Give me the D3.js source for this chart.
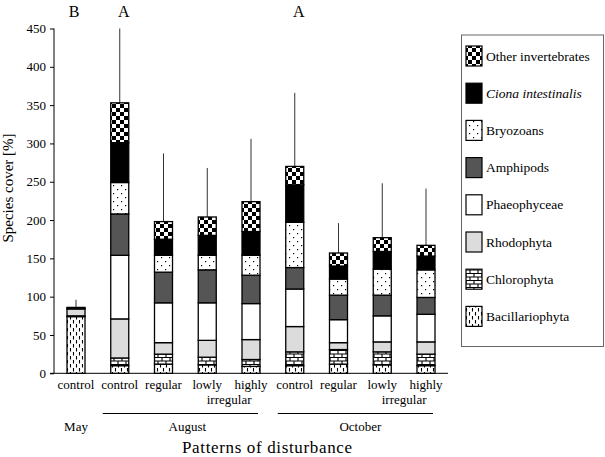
<!DOCTYPE html>
<html><head><meta charset="utf-8">
<script src="https://cdn.jsdelivr.net/npm/d3@7"></script>
<style>
html,body{margin:0;padding:0;background:#fff;}
svg{display:block;}
</style></head>
<body><svg id="chart" width="605" height="457" font-family="Liberation Serif, Times New Roman, serif"></svg>
<script>
// ---- data ----
const categories = ["control","control","regular","lowly","highly","control","regular","lowly","highly"];
const secondLine = ["","","","irregular","","","","irregular",""];
const months = ["May","August","October"];
const monthSpans = [[0,0],[1,4],[5,8]];
const letters = ["B","A","A"];
const letterCats = [0,1,5];
const series = ["Bacillariophyta","Chlorophyta","Rhodophyta","Phaeophyceae","Amphipods","Bryozoans","Ciona intestinalis","Other invertebrates"];
const bacillariophyta = [74, 10, 12, 11, 9, 10, 12, 11, 10];
const chlorophyta     = [1, 10, 13, 10, 9, 18, 19, 17, 15];
const rhodophyta      = [9, 51, 15, 22, 26, 33, 9, 13, 16];
const phaeophyceae    = [0, 83, 52, 49, 47, 49, 30, 34, 36];
const amphipods       = [0, 54, 40, 43, 37, 28, 32, 27, 22];
const bryozoans       = [0, 41, 22, 19, 26, 59, 21, 34, 36];
const ciona           = [1, 52, 21, 26, 31, 49, 17, 23, 18];
const otherInv        = [1, 52, 23, 24, 39, 24, 17, 18, 14];
const errorUpper      = [96, 450, 287, 268, 306, 366, 196, 248, 241];
const yTicks = [0,50,100,150,200,250,300,350,400,450];

const seriesValues = [bacillariophyta, chlorophyta, rhodophyta, phaeophyceae, amphipods, bryozoans, ciona, otherInv];
const fills = ["url(#pBac)","url(#pChl)","#dcdcdc","#ffffff","#555555","url(#pBry)","#000000","url(#pChk)"];
const FONT = "Liberation Serif, Times New Roman, serif";

const svg = d3.select("#chart");
const defs = svg.append("defs");

// checkerboard
let p = defs.append("pattern").attr("id","pChk").attr("patternUnits","userSpaceOnUse").attr("width",8).attr("height",8);
p.append("rect").attr("width",8).attr("height",8).attr("fill","#fff");
p.append("rect").attr("width",4).attr("height",4).attr("fill","#000");
p.append("rect").attr("x",4).attr("y",4).attr("width",4).attr("height",4).attr("fill","#000");
// bryozoan dots
p = defs.append("pattern").attr("id","pBry").attr("patternUnits","userSpaceOnUse").attr("width",8).attr("height",8);
p.append("rect").attr("width",8).attr("height",8).attr("fill","#fff");
p.append("rect").attr("x",1).attr("y",1).attr("width",1.2).attr("height",1.2).attr("fill","#000");
p.append("rect").attr("x",5).attr("y",5).attr("width",1.2).attr("height",1.2).attr("fill","#000");
// brick
p = defs.append("pattern").attr("id","pChl").attr("patternUnits","userSpaceOnUse").attr("width",8).attr("height",7);
p.append("rect").attr("width",8).attr("height",7).attr("fill","#fff");
p.append("path").attr("d","M0,0.5H8M0,4H8M2,0.5V4M6,4V7").attr("stroke","#000").attr("stroke-width",1.1).attr("fill","none");
// diatom dashes
p = defs.append("pattern").attr("id","pBac").attr("patternUnits","userSpaceOnUse").attr("width",6).attr("height",8);
p.append("rect").attr("width",6).attr("height",8).attr("fill","#fff");
p.append("path").attr("d","M1.5,0V3.5M4.5,4V7.5").attr("stroke","#000").attr("stroke-width",1.1).attr("fill","none");

const y = d3.scaleLinear().domain([0,450]).range([373.3,28.5]);
const x = d3.scalePoint().domain(d3.range(categories.length)).range([76,426]);
const bw = 18;

// y axis
const yAxis = d3.axisLeft(y).tickValues(yTicks).tickSize(4).tickPadding(4);
const gy = svg.append("g").attr("transform","translate(54,0)").call(yAxis).attr("font-family",FONT).attr("font-size",13);
gy.select(".domain").attr("d","M0,"+y(0)+"V"+y(450)).attr("stroke","#000");
gy.selectAll(".tick line").attr("stroke","#000");
gy.selectAll("text").attr("fill","#000");

// x axis line
svg.append("line").attr("x1",50).attr("x2",448).attr("y1",y(0)).attr("y2",y(0)).attr("stroke","#000");

// stacks
const stackData = categories.map((c,i)=>{ const o={i}; series.forEach((s,k)=>o[s]=seriesValues[k][i]); return o; });
const stacked = d3.stack().keys(series)(stackData);

// error bars
svg.append("g").selectAll("line").data(errorUpper).join("line")
  .attr("x1",(d,i)=>x(i)).attr("x2",(d,i)=>x(i))
  .attr("y1",(d,i)=>y(d3.sum(seriesValues,v=>v[i]))).attr("y2",d=>y(d))
  .attr("stroke","#333").attr("stroke-width",1);

stacked.forEach((layer,k)=>{
  svg.append("g").selectAll("rect").data(layer.filter(d=>d[1]-d[0]>0)).join("rect")
    .attr("x",d=>x(d.data.i)-bw/2).attr("width",bw)
    .attr("y",d=>y(d[1])).attr("height",d=>y(d[0])-y(d[1]))
    .attr("fill",fills[k]).attr("stroke","#000").attr("stroke-width",1.3);
});

// letters
svg.append("g").selectAll("text").data(letters).join("text")
  .attr("x",(d,i)=>x(letterCats[i])+(i===0?-2:4)).attr("y",17)
  .attr("text-anchor","middle").attr("font-size",16).text(d=>d);

// category labels
const gl = svg.append("g").attr("font-size",13).attr("text-anchor","middle");
gl.selectAll("text.c").data(categories).join("text").attr("class","c")
  .attr("x",(d,i)=>x(i)).attr("y",389).text(d=>d);
gl.selectAll("text.s").data(secondLine.map((d,i)=>({d,i})).filter(o=>o.d)).join("text").attr("class","s")
  .attr("x",o=>(x(o.i)+x(o.i+1))/2).attr("y",404).text(o=>o.d);

// month group lines and labels
monthSpans.forEach((s,i)=>{
  const x0 = x(s[0]), x1 = x(s[1]);
  if (s[1]>s[0]) svg.append("line").attr("x1",x0-17).attr("x2",x1+7).attr("y1",413.5).attr("y2",413.5).attr("stroke","#000");
  svg.append("text").attr("x",(x0+x1)/2+(i===1?2:0)).attr("y",431).attr("text-anchor","middle").attr("font-size",13).text(months[i]);
});

// axis titles
svg.append("text").attr("x",267).attr("y",453).attr("text-anchor","middle").attr("font-size",17)
  .attr("textLength",170).attr("lengthAdjust","spacing").text("Patterns of disturbance");
svg.append("text").attr("transform","translate(13,188) rotate(-90)").attr("text-anchor","middle").attr("font-size",15).text("Species cover [%]");

// legend
const lg = svg.append("g");
lg.append("rect").attr("x",461.5).attr("y",35).attr("width",142).attr("height",311.5).attr("fill","none").attr("stroke","#666").attr("stroke-width",1);
const legendOrder = series.slice().reverse();
legendOrder.forEach((s,j)=>{
  const k = series.indexOf(s);
  const top = 46 + j*37.2;
  lg.append("rect").attr("x",466).attr("y",top).attr("width",16).attr("height",20).attr("fill",fills[k]).attr("stroke","#000").attr("stroke-width",1.2);
  lg.append("text").attr("x",486).attr("y",top+14.5).attr("font-size",13.5)
    .attr("font-style",s==="Ciona intestinalis"?"italic":"normal").text(s);
});
</script></body></html>
